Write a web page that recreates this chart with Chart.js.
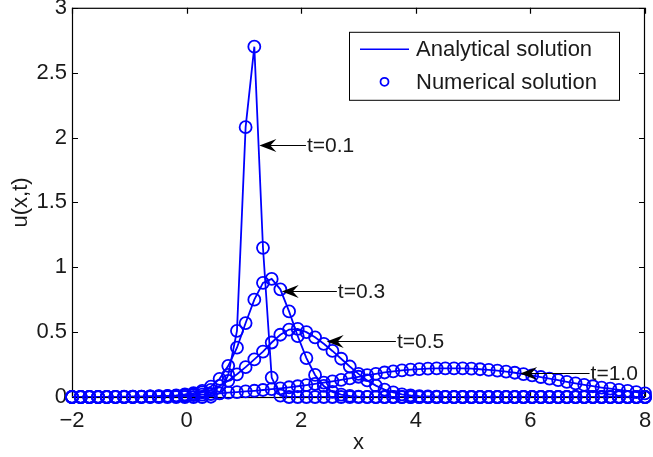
<!DOCTYPE html>
<html>
<head>
<meta charset="utf-8">
<title>u(x,t)</title>
<script src="https://cdn.jsdelivr.net/npm/chart.js@4/dist/chart.umd.min.js"></script>
<style>
  html, body { margin: 0; padding: 0; background: #fff; }
  #wrap { width: 653px; height: 457px; }
</style>
</head>
<body>
<div id="wrap"><canvas id="chart" width="653" height="457"></canvas></div>
<script>
// grid of x nodes (67 points from -2 to 8)
const xGrid = [
  -2.000, -1.848, -1.697, -1.545, -1.394, -1.242, -1.091, -0.939, -0.788, -0.636,
  -0.485, -0.333, -0.182, -0.030, 0.121, 0.273, 0.424, 0.576, 0.727, 0.879,
  1.030, 1.182, 1.333, 1.485, 1.636, 1.788, 1.939, 2.091, 2.242, 2.394,
  2.545, 2.697, 2.848, 3.000, 3.152, 3.303, 3.455, 3.606, 3.758, 3.909,
  4.061, 4.212, 4.364, 4.515, 4.667, 4.818, 4.970, 5.121, 5.273, 5.424,
  5.576, 5.727, 5.879, 6.030, 6.182, 6.333, 6.485, 6.636, 6.788, 6.939,
  7.091, 7.242, 7.394, 7.545, 7.697, 7.848, 8.000
];

// u(x,t)
const uT01 = [
  0, 0, 0, 0, 0, 0, 0, 0, 0, 0,
  0, 0, 0, 0, 0, 0, 0.002, 0.03, 0.17, 0.51,
  2.08, 2.70, 1.15, 0.15, 0.01, 0, 0, 0, 0, 0,
  0, 0, 0, 0, 0, 0, 0, 0, 0, 0,
  0, 0, 0, 0, 0, 0, 0, 0, 0, 0,
  0, 0, 0, 0, 0, 0, 0, 0, 0, 0,
  0, 0, 0, 0, 0, 0, 0
];
const uT03 = [
  0, 0, 0, 0, 0, 0.001, 0.001, 0.002, 0.003, 0.004,
  0.006, 0.009, 0.013, 0.02, 0.03, 0.047, 0.08, 0.14, 0.24, 0.38,
  0.57, 0.75, 0.88, 0.91, 0.83, 0.66, 0.47, 0.30, 0.17, 0.085,
  0.04, 0.018, 0.008, 0.003, 0.001, 0, 0, 0, 0, 0,
  0, 0, 0, 0, 0, 0, 0, 0, 0, 0,
  0, 0, 0, 0, 0, 0, 0, 0, 0, 0,
  0, 0, 0, 0, 0, 0, 0
];
const uT05 = [
  0, 0, 0, 0, 0, 0, 0, 0, 0.001, 0.002,
  0.003, 0.005, 0.007, 0.01, 0.02, 0.035, 0.055, 0.085, 0.125, 0.175,
  0.23, 0.29, 0.35, 0.42, 0.48, 0.52, 0.525, 0.50, 0.46, 0.41,
  0.355, 0.295, 0.235, 0.178, 0.128, 0.088, 0.057, 0.035, 0.021, 0.012,
  0.007, 0.004, 0.002, 0.001, 0, 0, 0, 0, 0, 0,
  0, 0, 0, 0, 0, 0, 0, 0, 0, 0,
  0, 0, 0, 0, 0, 0, 0
];
const uT10 = [
  0, 0, 0, 0, 0.001, 0.001, 0.002, 0.002, 0.003, 0.004,
  0.005, 0.007, 0.009, 0.012, 0.015, 0.019, 0.023, 0.028, 0.033, 0.038,
  0.043, 0.048, 0.054, 0.06, 0.067, 0.075, 0.083, 0.092, 0.101, 0.111,
  0.121, 0.132, 0.144, 0.156, 0.168, 0.179, 0.189, 0.198, 0.205, 0.211,
  0.215, 0.218, 0.22, 0.221, 0.221, 0.22, 0.218, 0.214, 0.209, 0.203,
  0.196, 0.187, 0.177, 0.166, 0.154, 0.142, 0.13, 0.117, 0.105, 0.094,
  0.083, 0.073, 0.064, 0.055, 0.047, 0.038, 0.028
];

const xTicks = [-2, 0, 2, 4, 6, 8];
const yTicks = [0, 0.5, 1, 1.5, 2, 2.5, 3];

// arrow labels: text, arrow tip (data coords), where the text starts (x)
const curveLabels = ['t=0.1', 't=0.3', 't=0.5', 't=1.0'];
const arrowTipX = [1.27, 1.66, 2.445, 5.82];
const arrowTipY = [1.94, 0.82, 0.43, 0.187];
const labelX = [2.10, 2.64, 3.67, 7.05];

const legendLabels = ['Analytical solution', 'Numerical solution'];

const series = [uT01, uT03, uT05, uT10];
const BLUE = '#0000ff';
const TEXT = '#1a1a1a';
const FONT = '"Liberation Sans", Arial, Helvetica, sans-serif';

const datasets = [];
series.forEach((u, i) => {
  const pts = xGrid.map((x, k) => ({ x: x, y: u[k] }));
  datasets.push({
    label: legendLabels[0] + ' ' + curveLabels[i],
    data: pts,
    showLine: true,
    borderColor: BLUE,
    borderWidth: 1.8,
    pointRadius: 0,
    fill: false,
    tension: 0
  });
  datasets.push({
    label: legendLabels[1] + ' ' + curveLabels[i],
    data: pts,
    showLine: false,
    pointStyle: 'circle',
    pointRadius: 6,
    pointBorderWidth: 1.8,
    pointBorderColor: BLUE,
    pointBackgroundColor: 'rgba(0,0,0,0)',
    clip: false
  });
});

// box around the axes with inward ticks on all four sides
const framePlugin = {
  id: 'frame',
  beforeDatasetsDraw(chart) {
    const { ctx, chartArea: a, scales: { x, y } } = chart;
    ctx.save();
    ctx.strokeStyle = '#000';
    ctx.lineWidth = 1.2;
    ctx.strokeRect(a.left + 0.5, a.top + 0.5, a.right - a.left - 1, a.bottom - a.top);
    ctx.beginPath();
    xTicks.forEach(v => {
      const px = Math.round(x.getPixelForValue(v)) + 0.5;
      ctx.moveTo(px, a.bottom); ctx.lineTo(px, a.bottom - 6);
      ctx.moveTo(px, a.top); ctx.lineTo(px, a.top + 6);
    });
    yTicks.forEach(v => {
      const py = Math.round(y.getPixelForValue(v)) + 0.5;
      ctx.moveTo(a.left, py); ctx.lineTo(a.left + 6, py);
      ctx.moveTo(a.right, py); ctx.lineTo(a.right - 6, py);
    });
    ctx.stroke();
    ctx.restore();
  }
};

const arrowPlugin = {
  id: 'arrows',
  afterDatasetsDraw(chart) {
    const { ctx, scales: { x, y } } = chart;
    ctx.save();
    ctx.font = '21px ' + FONT;
    ctx.textBaseline = 'middle';
    ctx.textAlign = 'left';
    curveLabels.forEach((txt, i) => {
      const tx = x.getPixelForValue(arrowTipX[i]);
      const ty = Math.round(y.getPixelForValue(arrowTipY[i])) + 0.5;
      const lx = x.getPixelForValue(labelX[i]);
      ctx.strokeStyle = '#000';
      ctx.lineWidth = 1;
      ctx.beginPath();
      ctx.moveTo(lx - 1, ty);
      ctx.lineTo(tx + 10, ty);
      ctx.stroke();
      ctx.fillStyle = '#000';
      ctx.beginPath();
      ctx.moveTo(tx, ty);
      ctx.lineTo(tx + 17, ty - 6.5);
      ctx.lineTo(tx + 11, ty);
      ctx.lineTo(tx + 17, ty + 6.5);
      ctx.closePath();
      ctx.fill();
      ctx.fillStyle = TEXT;
      ctx.fillText(txt, lx, ty + 1);
    });
    ctx.restore();
  }
};

const legendPlugin = {
  id: 'legendBox',
  afterDraw(chart) {
    const { ctx, chartArea: a } = chart;
    const left = a.right - 296, top = a.top + 24, w = 270, h = 68;
    ctx.save();
    ctx.fillStyle = '#fff';
    ctx.fillRect(left, top, w, h);
    ctx.strokeStyle = '#000';
    ctx.lineWidth = 1;
    ctx.strokeRect(left + 0.5, top + 0.5, w, h);

    const row1 = top + 17.5, row2 = top + 50;
    ctx.strokeStyle = BLUE;
    ctx.lineWidth = 1.5;
    ctx.beginPath();
    ctx.moveTo(left + 11, row1);
    ctx.lineTo(left + 60, row1);
    ctx.stroke();
    ctx.lineWidth = 1.8;
    ctx.beginPath();
    ctx.arc(left + 35.5, row2, 4, 0, Math.PI * 2);
    ctx.stroke();

    ctx.fillStyle = TEXT;
    ctx.font = '22px ' + FONT;
    ctx.textBaseline = 'middle';
    ctx.fillText(legendLabels[0], left + 67, row1 + 1);
    ctx.fillText(legendLabels[1], left + 67, row2 + 1);
    ctx.restore();
  }
};

const tickFont = { family: FONT, size: 22 };

new Chart(document.getElementById('chart').getContext('2d'), {
  type: 'scatter',
  data: { datasets: datasets },
  options: {
    responsive: false,
    animation: false,
    devicePixelRatio: 1,
    events: [],
    layout: { padding: { top: 7, right: 8, left: 0, bottom: 0 } },
    plugins: {
      legend: { display: false },
      tooltip: { enabled: false }
    },
    scales: {
      x: {
        type: 'linear',
        min: -2,
        max: 8,
        grid: { display: false, drawTicks: false },
        border: { display: false },
        afterBuildTicks: s => { s.ticks = xTicks.map(v => ({ value: v })); },
        afterFit: s => { s.height = 60; s.paddingLeft = 0; s.paddingRight = 0; },
        ticks: {
          color: TEXT,
          font: tickFont,
          padding: 11,
          maxRotation: 0,
          callback: v => (v < 0 ? '\u2212' + Math.abs(v) : String(v))
        },
        title: {
          display: true,
          text: 'x',
          color: TEXT,
          font: tickFont,
          padding: { top: 0, bottom: 1 }
        }
      },
      y: {
        type: 'linear',
        min: 0,
        max: 3,
        grid: { display: false, drawTicks: false },
        border: { display: false },
        afterBuildTicks: s => { s.ticks = yTicks.map(v => ({ value: v })); },
        afterFit: s => { s.width = 72; s.paddingTop = 0; s.paddingBottom = 0; },
        ticks: {
          color: TEXT,
          font: tickFont,
          padding: 5,
          callback: v => String(v)
        },
        title: {
          display: true,
          text: 'u(x,t)',
          color: TEXT,
          font: tickFont,
          padding: { top: 8, bottom: 0 }
        }
      }
    }
  },
  plugins: [framePlugin, arrowPlugin, legendPlugin]
});
</script>
</body>
</html>
